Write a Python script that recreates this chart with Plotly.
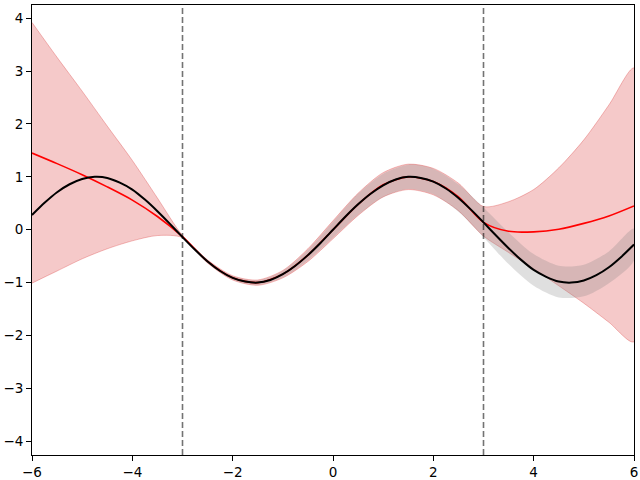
import plotly.graph_objects as go

# true function (black line)
x_true = [-6, -5.75, -5.5, -5.25, -5, -4.75, -4.5, -4.25, -4, -3.75, -3.5, -3.25, -3, -2.75, -2.5, -2.25,
          -2, -1.75, -1.5, -1.25, -1, -0.75, -0.5, -0.25, 0, 0.25, 0.5, 0.75, 1, 1.25, 1.5, 1.75,
          2, 2.25, 2.5, 2.75, 3, 3.25, 3.5, 3.75, 4, 4.25, 4.5, 4.75, 5, 5.25, 5.5, 5.75, 6]
y_true = [0.28, 0.51, 0.71, 0.86, 0.96, 1.0, 0.98, 0.89, 0.76, 0.57, 0.35, 0.11, -0.14, -0.38, -0.6, -0.78,
          -0.91, -0.98, -1.0, -0.95, -0.84, -0.68, -0.48, -0.25, 0.0, 0.25, 0.48, 0.68, 0.84, 0.95, 1.0, 0.98,
          0.91, 0.78, 0.6, 0.38, 0.14, -0.11, -0.35, -0.57, -0.76, -0.89, -0.98, -1.0, -0.96, -0.86, -0.71, -0.51, -0.28]

# red model: mean and band
x_red = [-6, -5.5, -5, -4.5, -4, -3.5, -3, -2.5, -2, -1.5, -1, -0.5, 0, 0.5, 1, 1.5, 2, 2.5, 3, 3.5, 4, 4.5, 5, 5.5, 6]
red_mean = [1.45, 1.25, 1.04, 0.81, 0.56, 0.25, -0.13, -0.6, -0.91, -1.0, -0.84, -0.48, 0.0, 0.48, 0.85, 1.0, 0.91, 0.62, 0.14, -0.03, -0.04, 0.01, 0.12, 0.26, 0.45]
red_upper = [3.92, 3.26, 2.62, 1.96, 1.31, 0.6, -0.11, -0.57, -0.87, -0.95, -0.77, -0.36, 0.17, 0.69, 1.08, 1.24, 1.16, 0.88, 0.44, 0.53, 0.76, 1.17, 1.7, 2.36, 3.06]
red_lower = [-1.01, -0.78, -0.55, -0.36, -0.21, -0.11, -0.15, -0.63, -0.95, -1.05, -0.91, -0.6, -0.17, 0.27, 0.62, 0.76, 0.66, 0.36, -0.12, -0.43, -0.74, -1.06, -1.39, -1.75, -2.12]

# grey band
x_grey = [-3, -2.5, -2, -1.5, -1, -0.5, 0, 0.5, 1, 1.5, 2, 2.5, 3, 3.5, 4, 4.5, 5, 5.5, 6]
grey_upper = [-0.13, -0.58, -0.88, -0.96, -0.78, -0.38, 0.15, 0.68, 1.06, 1.23, 1.15, 0.86, 0.42, -0.05, -0.46, -0.68, -0.66, -0.41, 0.02]
grey_lower = [-0.15, -0.62, -0.94, -1.04, -0.9, -0.58, -0.15, 0.28, 0.62, 0.77, 0.67, 0.34, -0.14, -0.65, -1.06, -1.28, -1.26, -1.01, -0.58]

vlines = [-3, 3]
x_ticks = [-6, -4, -2, 0, 2, 4, 6]
y_ticks = [-4, -3, -2, -1, 0, 1, 2, 3, 4]

fig = go.Figure()
fig.add_trace(go.Scatter(
    x=x_red + x_red[::-1], y=red_upper + red_lower[::-1],
    fill="toself", fillcolor="rgba(214,39,40,0.25)",
    line=dict(color="rgba(214,39,40,0.3)", width=1, shape="spline", smoothing=0.8),
    mode="lines", hoverinfo="skip", showlegend=False))
fig.add_trace(go.Scatter(
    x=x_grey + x_grey[::-1], y=grey_upper + grey_lower[::-1],
    fill="toself", fillcolor="rgba(128,128,128,0.25)",
    line=dict(color="rgba(128,128,128,0.0)", width=0, shape="spline", smoothing=0.8),
    mode="lines", hoverinfo="skip", showlegend=False))
fig.add_trace(go.Scatter(x=x_red, y=red_mean, mode="lines",
                         line=dict(color="#ff0000", width=1.6, shape="spline", smoothing=0.8),
                         showlegend=False))
fig.add_trace(go.Scatter(x=x_true, y=y_true, mode="lines",
                         line=dict(color="black", width=2, shape="spline", smoothing=0.6),
                         showlegend=False))

for xv in vlines:
    fig.add_shape(type="line", x0=xv, x1=xv, y0=0, y1=1, xref="x", yref="paper",
                  line=dict(color="rgba(0,0,0,0.55)", width=1.6, dash="6px,3px"), layer="above")

axis_common = dict(showgrid=False, zeroline=False, showline=True, linecolor="black",
                   linewidth=1, mirror=True, ticks="outside", ticklen=5, tickwidth=1,
                   tickcolor="black", automargin=False,
                   tickfont=dict(family="DejaVu Sans", size=13.5, color="black"))
fig.update_layout(
    width=640, height=480,
    margin=dict(l=32, r=6, t=5, b=25),
    paper_bgcolor="white", plot_bgcolor="white",
    xaxis=dict(range=[-6, 6], tickvals=x_ticks, **axis_common),
    yaxis=dict(range=[-4.26, 4.25], tickvals=y_ticks, **axis_common),
)
fig.write_html("out.html", config={"displayModeBar": False},
               post_script="document.body.style.margin='0px';document.body.style.overflow='hidden';")
